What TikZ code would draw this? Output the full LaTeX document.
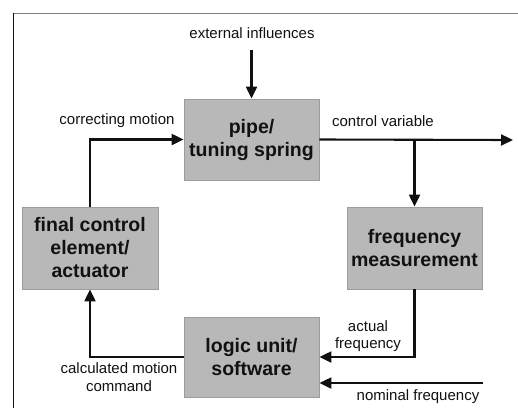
\documentclass[tikz,border=0pt]{standalone}
\usepackage{fontspec}
\setmainfont{Liberation Sans}
\usetikzlibrary{arrows.meta}
\definecolor{boxfill}{HTML}{B8B8B8}
\definecolor{boxline}{HTML}{9C9C9C}
\definecolor{ink}{HTML}{111111}
\tikzset{
  blk/.style={draw=boxline, fill=boxfill, line width=0.8pt, minimum width=135pt, minimum height=81pt, align=center, inner sep=2pt,
    font=\fontsize{19.5}{23}\selectfont\bfseries, text=ink},
  lbl/.style={font=\fontsize{15}{17.5}\selectfont, text=ink, align=center, inner sep=0pt},
  conn/.style={draw=ink, line width=2.1pt, -{Triangle[length=12pt,width=11pt]}}
}
\begin{document}
\begin{tikzpicture}[x=1pt,y=-1pt]
\useasboundingbox (0,0) rectangle (518,408);
\draw[color=gray, line width=1.8pt] (13.5,13.5) -- (518,13.5);
\draw[color=ink, line width=1.6pt] (13.5,12.6) -- (13.5,408);

\node[blk] (pipe) at (251.5,139.5) {pipe/\\tuning spring};
\node[blk, minimum width=136pt, minimum height=82pt] (final) at (90,248) {final control\\element/\\actuator};
\node[blk, minimum height=82pt] (freq) at (414.5,248) {frequency\\measurement};
\node[blk, minimum height=80pt] (logic) at (251.5,357) {logic unit/\\software};

\coordinate (extin) at (251.5,50);
\coordinate (cvout) at (513,140);
\coordinate (nomin) at (483,383);

\draw[conn] (extin) -- (pipe.north);
\draw[conn] (pipe.east) -- (cvout);
\draw[conn] (pipe.east -| freq.north) -- (freq.north);
\draw[conn] (final.north) |- (pipe.west);
\draw[conn] (logic.west) -| (final.south);
\draw[conn] (freq.south) |- (logic.east);
\draw[conn] (nomin) -- (nomin -| logic.east);

\node[lbl] (t1) at (252,33) {external influences};
\node[lbl] (t2) at (117,121) {correcting motion};
\node[lbl] (t3) at (383,121) {control variable};
\node[lbl] (t4) at (368,336) {actual\\frequency};
\node[lbl] (t5) at (418,397) {nominal frequency};
\node[lbl] (t6) at (119,377) {calculated motion\\command};
\end{tikzpicture}
\end{document}
